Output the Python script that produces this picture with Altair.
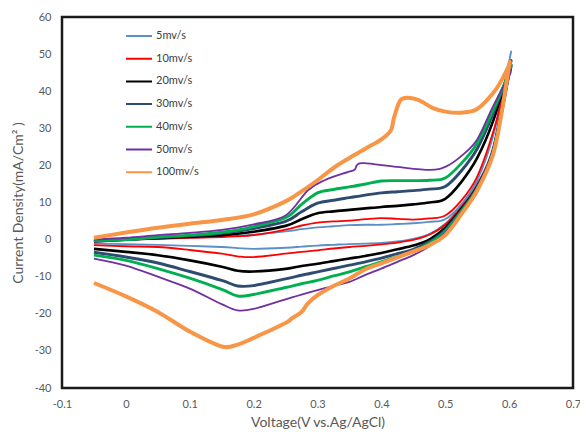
import altair as alt
import pandas as pd

series = ["5mv/s", "10mv/s", "20mv/s", "30mv/s", "40mv/s", "50mv/s", "100mv/s"]
colors = ["#5B8FC7", "#FF0000", "#000000", "#2E4B70", "#00B050", "#7030A0", "#F79646"]
widths = [1.5, 1.5, 3, 3.5, 3.5, 1.5, 5.5]

x_ticks = [-0.1, 0.0, 0.1, 0.2, 0.3, 0.4, 0.5, 0.6, 0.7]
y_ticks = [-40, -30, -20, -10, 0, 10, 20, 30, 40, 50, 60]

grid = [-0.05, 0, 0.05, 0.1, 0.15, 0.175, 0.2, 0.25, 0.275, 0.3, 0.325, 0.35,
        0.375, 0.4, 0.425, 0.45, 0.475, 0.5, 0.525, 0.55, 0.575, 0.6]

blue_up = [-0.3, 0, 0.3, 0.5, 0.8, 1.0, 1.3, 2.2, 2.8, 3.3, 3.6, 3.9, 4.0, 4.0, 4.2, 4.4, 4.8, 5.5, 9.5, 16, 28, 48]
blue_dn = [-1.1, -1.2, -1.4, -1.7, -2.0, -2.3, -2.5, -2.2, -1.9, -1.6, -1.4, -1.2, -1.1, -0.9, -0.5, 0.2, 1.5, 4.3, 9, 15, 25, 48]

red_up = [-0.5, 0, 0.2, 0.5, 0.7, 0.9, 1.2, 2.7, 3.8, 4.6, 4.9, 5.1, 5.5, 5.8, 5.6, 5.4, 5.7, 6.5, 10.5, 17, 29, 45]
red_dn = [-1.5, -1.8, -2.0, -2.8, -3.8, -4.5, -4.7, -3.8, -3.3, -2.9, -2.4, -2.0, -1.7, -1.3, -0.8, -0.1, 1.3, 4.0, 8.7, 14.7, 24.5, 45]

black_up = [-0.5, 0, 0.4, 0.8, 1.2, 1.6, 2.1, 3.7, 5.5, 7.1, 7.6, 8.0, 8.4, 8.8, 9.1, 9.5, 10.0, 11, 15.5, 22, 32, 46]
black_dn = [-2.5, -3.3, -4.2, -5.6, -7.3, -8.4, -8.6, -7.9, -7.1, -6.5, -5.8, -5.1, -4.4, -3.6, -2.6, -1.6, 0, 3.2, 8.2, 14.3, 24, 46]

navy_up = [-0.4, 0, 0.6, 1.0, 1.7, 2.3, 3.0, 4.9, 7.5, 9.8, 10.6, 11.3, 12.0, 12.6, 12.9, 13.2, 13.6, 14.3, 18.5, 24.5, 34, 45]
navy_dn = [-3.4, -4.7, -6.3, -8.6, -11.0, -12.5, -12.4, -10.6, -9.6, -8.7, -7.8, -6.9, -6.0, -5.0, -3.8, -2.6, -0.6, 2.6, 7.8, 14, 23.8, 45]

green_up = [-0.3, 0, 0.7, 1.2, 2.0, 2.6, 3.5, 5.9, 9.5, 12.6, 13.5, 14.2, 15.0, 15.8, 15.9, 15.9, 16.0, 16.6, 20.5, 26, 35, 45]
green_dn = [-4.2, -5.6, -7.8, -10.4, -13.4, -15.2, -14.8, -12.9, -11.9, -11.0, -9.8, -8.7, -7.3, -6.0, -4.6, -3.2, -1.0, 2.2, 7.5, 13.8, 23.6, 45]

purple_up_v = [-0.05, 0, 0.05, 0.1, 0.15, 0.2, 0.25, 0.285, 0.311, 0.347, 0.358, 0.362, 0.373, 0.424, 0.476, 0.5, 0.525, 0.55, 0.575, 0.6]
purple_up = [0, 0.5, 1.2, 1.8, 2.6, 4.1, 6.5, 13.3, 16, 18.2, 18.8, 20.1, 20.6, 19.6, 18.8, 19.6, 22.5, 27, 36, 44]
purple_dn = [-5.1, -7, -10, -13.2, -17.4, -19.1, -18.7, -16.1, -14.8, -13.6, -12.5, -11.4, -9.5, -7.8, -6.0, -4.2, -1.8, 1.8, 7.2, 13.6, 23.4, 44]

orange_up_v = [-0.05, 0, 0.05, 0.1, 0.15, 0.2, 0.25, 0.275, 0.3, 0.325, 0.35, 0.375, 0.4, 0.415, 0.42, 0.43,
               0.445, 0.46, 0.48, 0.5, 0.525, 0.55, 0.575, 0.59, 0.6]
orange_up = [0.5, 1.9, 3.2, 4.3, 5.3, 6.8, 10.3, 13, 16, 19.3, 22, 24.5, 27, 29.5, 33, 37.6,
             38.2, 37.5, 35.5, 34.5, 34.2, 35.2, 39.5, 43.5, 47]
orange_dn_v = [0.6, 0.59, 0.575, 0.55, 0.525, 0.5, 0.475, 0.45, 0.425, 0.4, 0.375, 0.35, 0.325, 0.3,
               0.285, 0.275, 0.26, 0.25, 0.2, 0.175, 0.15, 0.1, 0.05, 0, -0.05]
orange_dn = [47, 36, 23, 13.2, 6.8, 1.2, -1.5, -3.2, -4.8, -6.4, -8, -10.5, -12.5, -15,
             -17.2, -19.5, -21.2, -22.5, -26.5, -28.3, -28.8, -24.8, -19.5, -15.3, -11.7]

loops = [
    (grid, blue_up, grid[::-1], blue_dn[::-1]),
    (grid, red_up, grid[::-1], red_dn[::-1]),
    (grid, black_up, grid[::-1], black_dn[::-1]),
    (grid, navy_up, grid[::-1], navy_dn[::-1]),
    (grid, green_up, grid[::-1], green_dn[::-1]),
    (purple_up_v, purple_up, grid[::-1], purple_dn[::-1]),
    (orange_up_v, orange_up, orange_dn_v, orange_dn),
]

rows = []
for s, w, (uv, ui, dv, di) in zip(series, widths, loops):
    k = 0
    for v, i in zip(uv, ui):
        rows.append({"series": s, "V": v, "I": i, "k": k, "w": w})
        k += 1
    for v, i in zip(dv, di):
        rows.append({"series": s, "V": v, "I": i, "k": k, "w": w})
        k += 1
df = pd.DataFrame(rows)

label_color = "#595959"

chart = alt.Chart(df).mark_line(interpolate="cardinal").encode(
    x=alt.X("V:Q", scale=alt.Scale(domain=[-0.1, 0.7], nice=False, zero=False),
            axis=alt.Axis(values=x_ticks, title="Voltage(V vs.Ag/AgCl)", grid=False, ticks=False,
                          domain=False, labelFlush=False,
                          labelExpr="replace(format(datum.value, '~g'), '\u2212', '-')",
                          labelColor=label_color, labelFont="Lato", labelFontSize=11, labelPadding=10,
                          titleFont="Lato", titleFontSize=14, titleColor=label_color,
                          titleFontWeight="normal", titlePadding=6)),
    y=alt.Y("I:Q", scale=alt.Scale(domain=[-40, 60], nice=False),
            axis=alt.Axis(values=y_ticks, title="Current Density(mA/Cm\u00b2 )", grid=False, ticks=False,
                          domain=False, labelFlush=False,
                          labelExpr="replace(format(datum.value, '~g'), '\u2212', '-')",
                          labelColor=label_color, labelFont="Lato", labelFontSize=11, labelPadding=11,
                          titleFont="Lato", titleFontSize=14, titleColor=label_color,
                          titleFontWeight="normal", titlePadding=9)),
    color=alt.Color("series:N", title=None,
                    scale=alt.Scale(domain=series, range=colors),
                    sort=series,
                    legend=alt.Legend(orient="none", legendX=63, legendY=11, symbolType="stroke",
                                      symbolSize=676, symbolStrokeWidth=2, labelFont="Lato",
                                      labelFontSize=11, labelColor="#404040", rowPadding=6.7,
                                      clipHeight=16, padding=0, labelOffset=3)),
    size=alt.Size("w:Q", scale=alt.Scale(type="identity"), legend=None),
    order=alt.Order("k:Q"),
    detail="series:N",
).properties(
    width=511, height=371,
    padding={"left": 54, "top": 9, "right": 7, "bottom": 44},
    autosize=alt.AutoSizeParams(type="none"),
).configure_view(stroke="#1a1a1a", strokeWidth=2.5)

chart.save("out.html", embed_options={"renderer": "svg", "actions": False})
